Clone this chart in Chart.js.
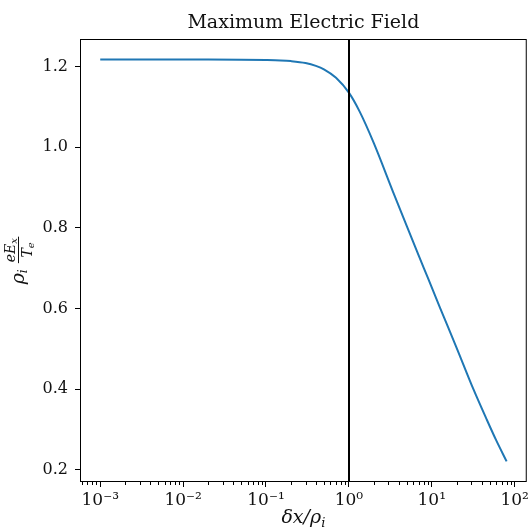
<!DOCTYPE html>
<html>
<head>
<meta charset="utf-8">
<script src="https://cdn.jsdelivr.net/npm/chart.js@4.4.0/dist/chart.umd.min.js"></script>
<style>
  html, body { margin: 0; padding: 0; background: #fff; }
</style>
</head>
<body>
<canvas id="chart" width="532" height="532"></canvas>
<script>
// Data
const xValues = [0.001, 0.002, 0.005, 0.01, 0.02, 0.05, 0.1, 0.15, 0.2, 0.3, 0.4, 0.5, 0.7, 1, 1.35, 2, 3.4, 5, 8, 12.7, 20, 31.8, 46, 60, 80];
const yValues = [1.217, 1.217, 1.217, 1.217, 1.217, 1.2166, 1.2158, 1.2148, 1.2132, 1.2085, 1.2015, 1.193, 1.172, 1.135, 1.088, 1.01, 0.89, 0.804, 0.701, 0.6, 0.502, 0.4, 0.325, 0.273, 0.221];
const xMajorTicks = [1e-3, 1e-2, 1e-1, 1, 10, 100];
const yTicks = [0.2, 0.4, 0.6, 0.8, 1.0, 1.2];
const markerX = 1;
const xRange = [5.7e-4, 140];
const yRange = [0.17, 1.268];

const serif = '"DejaVu Serif", "Liberation Serif", serif';
const sup = { '-': '\u207B', '0': '\u2070', '1': '\u00B9', '2': '\u00B2', '3': '\u00B3' };

function toSup(n) {
    return String(n).split('').map(c => sup[c]).join('');
}

// frame, vertical marker, minor ticks, title and y label
const extras = {
    id: 'extras',
    afterDatasetsDraw(chart) {
        const ctx = chart.ctx;
        const a = chart.chartArea;
        const xs = chart.scales.x;
        ctx.save();
        // x = 1 line
        const px = Math.round(xs.getPixelForValue(markerX));
        ctx.strokeStyle = '#000';
        ctx.lineWidth = 2;
        ctx.beginPath();
        ctx.moveTo(px, a.top);
        ctx.lineTo(px, a.bottom);
        ctx.stroke();
        ctx.restore();
    },
    afterDraw(chart) {
        const ctx = chart.ctx;
        const a = chart.chartArea;
        const xs = chart.scales.x;
        ctx.save();
        ctx.strokeStyle = '#000';
        ctx.lineWidth = 1;
        ctx.strokeRect(a.left + 0.5, a.top + 0.5, a.right - a.left - 1, a.bottom - a.top - 1);

        // minor ticks of the log axis
        ctx.beginPath();
        xMajorTicks.concat([1e-4]).forEach(d => {
            for (let k = 2; k <= 9; k++) {
                const v = d * k;
                if (v <= xRange[0] || v >= xRange[1]) continue;
                const p = Math.round(xs.getPixelForValue(v)) + 0.5;
                ctx.moveTo(p, a.bottom);
                ctx.lineTo(p, a.bottom + 3);
            }
        });
        ctx.stroke();

        // title
        ctx.fillStyle = '#111';
        ctx.font = '19px ' + serif;
        ctx.textAlign = 'center';
        ctx.textBaseline = 'alphabetic';
        ctx.fillText('Maximum Electric Field', (a.left + a.right) / 2, 28);

        // x label: δx/ρi
        const cxl = (a.left + a.right) / 2;
        ctx.font = 'italic 19px ' + serif;
        const main = 'δx/ρ';
        const w1 = ctx.measureText(main).width;
        ctx.font = 'italic 13px ' + serif;
        const w2 = ctx.measureText('i').width;
        let x0 = cxl - (w1 + w2) / 2;
        ctx.textAlign = 'left';
        ctx.font = 'italic 19px ' + serif;
        ctx.fillText(main, x0, 523);
        ctx.font = 'italic 13px ' + serif;
        ctx.fillText('i', x0 + w1, 527);

        // y label: ρi eEx / Te, rotated
        ctx.translate(24, (a.top + a.bottom) / 2);
        ctx.rotate(-Math.PI / 2);
        ctx.textAlign = 'left';
        ctx.font = 'italic 14px ' + serif;
        const wNum = ctx.measureText('eE').width + 6;
        const wDen = ctx.measureText('T').width + 6;
        const wFrac = Math.max(wNum, wDen) + 2;
        ctx.font = 'italic 19px ' + serif;
        const wRho = ctx.measureText('ρ').width;
        const total = wRho + 6 + 4 + wFrac;
        let u = -total / 2;
        ctx.fillText('ρ', u, 0);
        ctx.font = 'italic 12px ' + serif;
        ctx.fillText('i', u + wRho, 3);
        u += wRho + 10;
        // fraction
        ctx.fillRect(u, -6, wFrac, 1);
        ctx.font = 'italic 14px ' + serif;
        const nu = u + (wFrac - wNum) / 2;
        ctx.fillText('eE', nu, -9);
        const wEE = ctx.measureText('eE').width;
        ctx.font = 'italic 10px ' + serif;
        ctx.fillText('x', nu + wEE, -7);
        ctx.font = 'italic 14px ' + serif;
        const du = u + (wFrac - wDen) / 2;
        ctx.fillText('T', du, 8);
        const wT = ctx.measureText('T').width;
        ctx.font = 'italic 10px ' + serif;
        ctx.fillText('e', du + wT, 10);
        ctx.restore();
    }
};

const ctx = document.getElementById('chart').getContext('2d');

new Chart(ctx, {
    type: 'line',
    data: {
        datasets: [{
            data: xValues.map((x, i) => ({ x: x, y: yValues[i] })),
            borderColor: '#1f77b4',
            borderWidth: 2,
            pointRadius: 0,
            fill: false,
            cubicInterpolationMode: 'monotone'
        }]
    },
    options: {
        responsive: false,
        animation: false,
        devicePixelRatio: 1,
        layout: { padding: { top: 39, right: 5, left: 0, bottom: 0 } },
        plugins: {
            legend: { display: false },
            tooltip: { enabled: false }
        },
        scales: {
            x: {
                type: 'logarithmic',
                min: xRange[0],
                max: xRange[1],
                afterBuildTicks: (scale) => {
                    scale.ticks = xMajorTicks.map(v => ({ value: v, major: true }));
                },
                afterFit: (scale) => { scale.height = 50; },
                grid: { drawOnChartArea: false, tickLength: 5, color: '#000' },
                border: { display: false },
                ticks: {
                    autoSkip: false,
                    maxRotation: 0,
                    padding: 3,
                    color: '#111',
                    font: { family: serif, size: 17 },
                    callback: (v) => '10' + toSup(Math.round(Math.log10(v)))
                }
            },
            y: {
                min: yRange[0],
                max: yRange[1],
                afterBuildTicks: (scale) => {
                    scale.ticks = yTicks.map(v => ({ value: v }));
                },
                afterFit: (scale) => { scale.width = 80; },
                grid: { drawOnChartArea: false, tickLength: 5, color: '#000' },
                border: { display: false },
                ticks: {
                    padding: 7,
                    color: '#111',
                    font: { family: serif, size: 16 },
                    callback: (v) => v.toFixed(1)
                }
            }
        }
    },
    plugins: [extras]
});
</script>
</body>
</html>
